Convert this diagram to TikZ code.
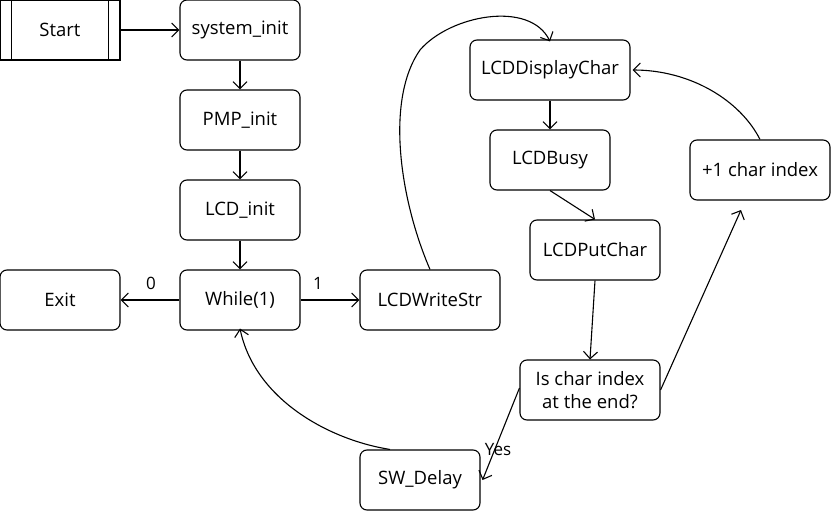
\documentclass[tikz,border=0pt]{standalone}
\usepackage{fontspec}
\setmainfont{Open Sans}
\usetikzlibrary{arrows.meta}
\begin{document}
\begin{tikzpicture}[x=1pt,y=-1pt, line width=1.1pt,
  box/.style={draw, rounded corners=7pt, minimum width=#1, minimum height=60pt, inner sep=0pt, align=center, font=\fontsize{18.5}{23}\selectfont},
  box/.default=120pt,
  arr/.style={-{Straight Barb[length=7pt,width=14pt]}},
  lbl/.style={font=\fontsize{17}{20}\selectfont}]
\useasboundingbox (0,0) rectangle (831,511);
\node[box, rounded corners=0pt] (start) at (60,30) {Start};
\draw ([xshift=12pt]start.north west) -- ([xshift=12pt]start.south west);
\draw ([xshift=-12pt]start.north east) -- ([xshift=-12pt]start.south east);
\node[box] (sys) at (240,30) {system\_init};
\node[box] (pmp) at (240,120) {PMP\_init};
\node[box] (lcdi) at (240,210) {LCD\_init};
\node[box] (wh) at (240,300) {While(1)};
\node[box] (exit) at (60,300) {Exit};
\node[box=140pt] (wstr) at (430,300) {LCDWriteStr};
\node[box=160pt] (disp) at (550,70) {LCDDisplayChar};
\node[box] (busy) at (550,160) {LCDBusy};
\node[box=130pt] (put) at (595,250) {LCDPutChar};
\node[box=140pt] (isc) at (590,390) {Is char index\\at the end?};
\node[box] (delay) at (420,480) {SW\_Delay};
\node[box=140pt] (inc) at (760,170) {+1 char index};
\coordinate (inctip) at (741,210);

\draw[arr] (start.east) -- (sys.west);
\draw[arr] (sys.south) -- (pmp.north);
\draw[arr] (pmp.south) -- (lcdi.north);
\draw[arr] (lcdi.south) -- (wh.north);
\draw[arr] (wh.west) -- (exit.east);
\node[lbl] (l0) at (151,283) {0};
\draw[arr] (wh.east) -- (wstr.west);
\node[lbl] (l1) at (318,283) {1};
\draw[arr] (wstr.north) .. controls (400,200) and (385,100) .. (420,50) .. controls (450,15) and (530,0) .. ([yshift=-2pt]disp.north);
\draw[arr] (disp.south) -- (busy.north);
\draw[arr] (busy.south) -- (put.north);
\draw[arr] (put.south) -- (isc.north);
\draw[arr] (isc.east) -- (inctip);
\draw[arr] (inc.north) .. controls (740,100) and (690,70) .. ([xshift=2pt]disp.east);
\draw[arr] ([yshift=2pt]isc.west) -- ([xshift=2pt]delay.east);
\node[lbl] (yes) at (498,450) {Yes};
\draw[arr] ([xshift=-30pt]delay.north) .. controls (330,440) and (255,400) .. ([yshift=2pt]wh.south);
\end{tikzpicture}
\end{document}
